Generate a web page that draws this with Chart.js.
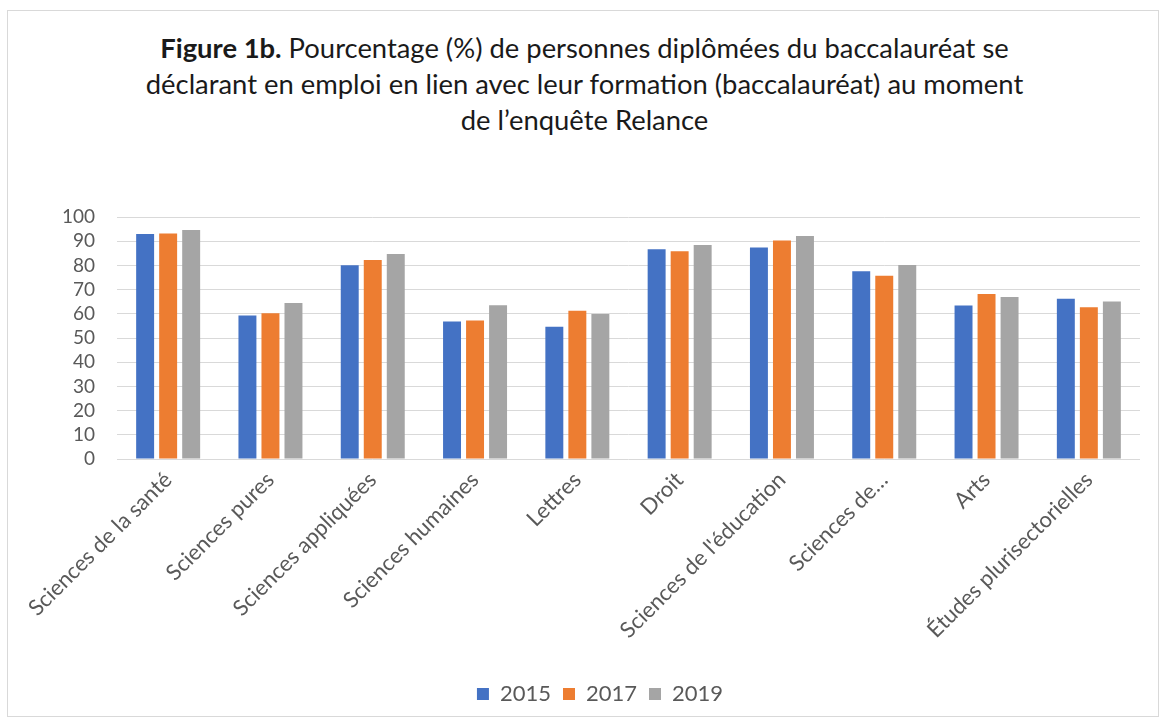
<!DOCTYPE html>
<html lang="fr">
<head>
<meta charset="utf-8">
<title>Figure 1b</title>
<script src="https://cdn.jsdelivr.net/npm/chart.js@4.4.1/dist/chart.umd.min.js"></script>
<style>
    html, body { margin: 0; padding: 0; background: #fff; }
    #wrap { position: relative; width: 1169px; height: 728px; }
    #frame {
        position: absolute; left: 7px; top: 10px; width: 1152px; height: 707px;
        border: 1px solid #d9d9d9; box-sizing: border-box;
    }
    #title {
        position: absolute; left: 0; top: 30px; width: 1169px;
        text-align: center; font-family: Lato, sans-serif; font-size: 27.4px;
        line-height: 36px; color: #1a1a1a;
    }
    #chart { position: absolute; left: 0; top: 0; }
</style>
</head>
<body>
<div id="wrap">
    <div id="frame"></div>
    <div id="title"><b>Figure 1b.</b> Pourcentage (%) de personnes diplômées du baccalauréat se<br>déclarant en emploi en lien avec leur formation (baccalauréat) au moment<br>de l’enquête Relance</div>
    <canvas id="chart" width="1169" height="728"></canvas>
</div>
<script>
// Categories (domaines d'études)
const categories = [
    'Sciences de la santé', 'Sciences pures', 'Sciences appliquées', 'Sciences humaines',
    'Lettres', 'Droit', "Sciences de l'éducation", 'Sciences de…', 'Arts', 'Études plurisectorielles'
];

// Series values (%)
const values2015 = [93.0, 59.3, 80.1, 56.8, 54.7, 86.7, 87.4, 77.6, 63.4, 66.2];
const values2017 = [93.2, 60.2, 82.2, 57.2, 61.3, 85.8, 90.3, 75.7, 68.2, 62.7];
const values2019 = [94.6, 64.5, 84.7, 63.5, 59.9, 88.4, 92.1, 80.2, 66.9, 65.1];

const seriesLabels = ['2015', '2017', '2019'];
const yTicks = [0, 10, 20, 30, 40, 50, 60, 70, 80, 90, 100];

const textColor = '#595959';
const fontFamily = 'Lato, sans-serif';

// Build a dataset with shared bar styling
function makeDataset(label, data, color) {
    return {
        label: label,
        data: data,
        backgroundColor: color,
        borderWidth: 0,
        categoryPercentage: 0.675,
        barPercentage: 0.78
    };
}

// Nudge the legend a little right of the canvas centre, like the original
const legendShift = {
    id: 'legendShift',
    afterLayout: function(chart) {
        if (chart.legend) chart.legend.left += 40;
    }
};

const ctx = document.getElementById('chart');

new Chart(ctx, {
    type: 'bar',
    data: {
        labels: categories,
        datasets: [
            makeDataset(seriesLabels[0], values2015, '#4472C4'),
            makeDataset(seriesLabels[1], values2017, '#ED7D31'),
            makeDataset(seriesLabels[2], values2019, '#A5A5A5')
        ]
    },
    options: {
        responsive: false,
        animation: false,
        layout: {
            padding: { top: 217, left: 20, right: 29, bottom: 13 }
        },
        plugins: {
            legend: {
                position: 'bottom',
                labels: {
                    boxWidth: 12,
                    boxHeight: 12,
                    padding: 12,
                    color: textColor,
                    font: { family: fontFamily, size: 22 }
                }
            },
            tooltip: { enabled: false }
        },
        scales: {
            x: {
                grid: { display: false, drawTicks: false },
                border: { display: false },
                ticks: {
                    color: textColor,
                    font: { family: fontFamily, size: 22 },
                    maxRotation: 45,
                    minRotation: 45,
                    autoSkip: false,
                    padding: 8
                },
                afterFit: function(scale) { scale.height = 212; }
            },
            y: {
                min: 0,
                max: 100,
                afterBuildTicks: function(scale) {
                    scale.ticks = yTicks.map(v => ({ value: v }));
                },
                grid: { color: '#d9d9d9', lineWidth: 1, drawTicks: false },
                border: { display: false },
                ticks: {
                    color: textColor,
                    font: { family: fontFamily, size: 19 },
                    padding: 22,
                    autoSkip: false
                },
                afterFit: function(scale) { scale.width = 97; }
            }
        }
    },
    plugins: [legendShift]
});
</script>
</body>
</html>
